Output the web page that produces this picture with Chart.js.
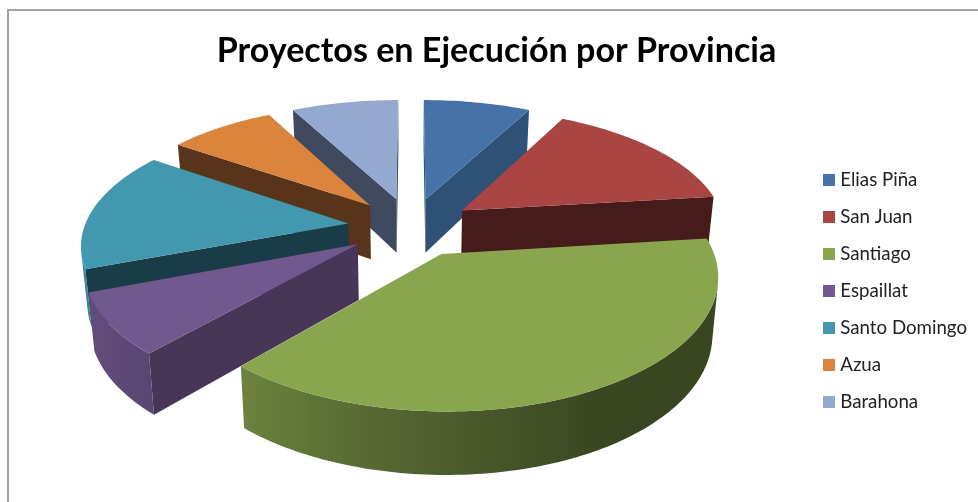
<!DOCTYPE html>
<html>
<head>
<meta charset="utf-8">
<title>Proyectos en Ejecución por Provincia</title>
<script src="https://cdn.jsdelivr.net/npm/chart.js@4/dist/chart.umd.min.js"></script>
<style>
  body { margin: 0; background: #fff; }
  #marco { position: absolute; left: 7px; top: 9px; width: 971px; height: 493px; box-sizing: border-box;
           border-left: 2px solid #a3a3a3; border-top: 2px solid #a3a3a3; }
  #grafico { position: absolute; left: 0; top: 0; }
</style>
</head>
<body>
<div id="marco"></div>
<canvas id="grafico" width="978" height="502"></canvas>
<script>
// Datos
const provincias = ['Elias Piña', 'San Juan', 'Santiago', 'Espaillat', 'Santo Domingo', 'Azua', 'Barahona'];
const proyectos = [1, 2, 5, 1, 2, 1, 1];

// Colores
const colores = ['#4572a7', '#a94543', '#89a54e', '#71588f', '#4198af', '#db843d', '#93a9cf'];
const coloresPared = ['#2f5178', '#461c1a', '#36401c', '#483659', '#1a3c49', '#57341a', '#3f4a5e'];

// Orden de pintado, de atras hacia adelante
const ordenPintado = [6, 0, 5, 1, 4, 3, 2];

// Camara del pie 3D
const camara = { cx: 411, cy: 227, ax: 264, ay: 123, kx: 0.15, ky: 0.158, explosion: 0.24, fondo: 55, fondoV: 7, fuga: 0.981 };

function proyectar(u, v) {
    const x = camara.cx + camara.ax * u / (1 - camara.kx * v);
    const y = camara.cy + camara.ay * v / (1 - camara.ky * v);
    return {
        x: x,
        y: y,
        xb: camara.cx + (x - camara.cx) * camara.fuga,
        yb: y + camara.fondo + camara.fondoV * v,
    };
}

// Sombra de la pared exterior segun el angulo (grados desde arriba, horario)
function sombra(grados) {
    const tramos = [[0, 0.42], [150, 0.42], [180, 0.56], [222, 0.8], [250, 0.88], [360, 0.95]];
    for (let i = 1; i < tramos.length; i++) {
        if (grados <= tramos[i][0]) {
            const t = (grados - tramos[i - 1][0]) / (tramos[i][0] - tramos[i - 1][0]);
            return tramos[i - 1][1] + t * (tramos[i][1] - tramos[i - 1][1]);
        }
    }
    return 0.95;
}

function oscurecer(hex, f) {
    const n = parseInt(hex.slice(1), 16);
    return `rgb(${Math.round((n >> 16) * f)},${Math.round(((n >> 8) & 255) * f)},${Math.round((n & 255) * f)})`;
}

function esFrontal(p, q) {
    const poli = [[p.x, p.y], [q.x, q.y], [q.xb, q.yb], [p.xb, p.yb]];
    let area = 0;
    poli.forEach((a, i) => {
        const b = poli[(i + 1) % 4];
        area += a[0] * b[1] - b[0] * a[1];
    });
    return area < 0;
}

function pared(ctx, p, q, color) {
    if (!esFrontal(p, q)) return;
    ctx.beginPath();
    ctx.moveTo(p.x, p.y);
    ctx.lineTo(q.x, q.y);
    ctx.lineTo(q.xb, q.yb);
    ctx.lineTo(p.xb, p.yb);
    ctx.closePath();
    ctx.fillStyle = color;
    ctx.fill();
}

// Pared exterior curva: solo el tramo visible, con degradado horizontal
function paredExterior(ctx, borde, color) {
    const visibles = [];
    for (let j = 0; j < borde.length - 1; j++) {
        if (esFrontal(borde[j], borde[j + 1])) {
            if (!visibles.length) visibles.push(borde[j]);
            visibles.push(borde[j + 1]);
        }
    }
    if (visibles.length < 2) return;
    const x0 = visibles[0].x;
    const x1 = visibles[visibles.length - 1].x;
    const degradado = ctx.createLinearGradient(x0, 0, x1, 0);
    visibles.forEach((p) => {
        const t = Math.min(1, Math.max(0, (p.x - x0) / (x1 - x0)));
        degradado.addColorStop(t, oscurecer(color, sombra(p.grados)));
    });
    ctx.beginPath();
    visibles.forEach((p) => ctx.lineTo(p.x, p.y));
    visibles.slice().reverse().forEach((p) => ctx.lineTo(p.xb, p.yb));
    ctx.closePath();
    ctx.fillStyle = degradado;
    ctx.fill();
}

// Pinta cada arco del controlador de Chart.js en perspectiva
const pie3d = {
    id: 'pie3d',
    beforeDatasetsDraw(chart) {
        const ctx = chart.ctx;
        const arcos = chart.getDatasetMeta(0).data;
        ctx.save();
        for (let i of ordenPintado) {
            const arco = arcos[i];
            const medio = (arco.startAngle + arco.endAngle) / 2;
            const u0 = camara.explosion * Math.cos(medio);
            const v0 = camara.explosion * Math.sin(medio);
            const apice = proyectar(u0, v0);
            const pasos = Math.ceil((arco.endAngle - arco.startAngle) / 0.02);
            const borde = [];
            for (let j = 0; j <= pasos; j++) {
                const a = arco.startAngle + (arco.endAngle - arco.startAngle) * j / pasos;
                const p = proyectar(u0 + Math.cos(a), v0 + Math.sin(a));
                p.grados = (a + Math.PI / 2) * 180 / Math.PI;
                borde.push(p);
            }
            // paredes
            pared(ctx, apice, borde[0], coloresPared[i]);
            pared(ctx, borde[pasos], apice, coloresPared[i]);
            paredExterior(ctx, borde, colores[i]);
            // cara superior
            ctx.beginPath();
            ctx.moveTo(apice.x, apice.y);
            borde.forEach((p) => ctx.lineTo(p.x, p.y));
            ctx.closePath();
            ctx.fillStyle = arco.options.backgroundColor;
            ctx.fill();
        }
        ctx.restore();
        return false;
    },
};

// Cuadrito de la leyenda
function muestra(color) {
    const c = document.createElement('canvas');
    c.width = 12;
    c.height = 12;
    const g = c.getContext('2d');
    g.fillStyle = color;
    g.fillRect(0, 0, 12, 12);
    return c;
}

const grafico = new Chart(document.getElementById('grafico'), {
    type: 'pie',
    plugins: [pie3d],
    data: {
        labels: provincias,
        datasets: [{
            data: proyectos,
            backgroundColor: colores,
            borderWidth: 0,
        }],
    },
    options: {
        responsive: false,
        animation: false,
        layout: { padding: { left: 16, right: 1, top: 31, bottom: 0 } },
        plugins: {
            title: {
                display: true,
                text: 'Proyectos en Ejecución por Provincia',
                color: '#000',
                font: { family: 'Lato', size: 34.1, weight: 'bold' },
                padding: { top: 0, bottom: 8 },
            },
            legend: {
                position: 'right',
                fullSize: false,
                labels: {
                    color: '#222',
                    font: { family: 'Lato', size: 18.7 },
                    usePointStyle: true,
                    boxWidth: 3.3,
                    boxHeight: 12,
                    padding: 18.4,
                    generateLabels(chart) {
                        const base = Chart.overrides.pie.plugins.legend.labels.generateLabels(chart);
                        return base.map((item, i) => ({ ...item, pointStyle: muestra(colores[i]) }));
                    },
                },
            },
            tooltip: { enabled: false },
        },
    },
});
</script>
</body>
</html>
